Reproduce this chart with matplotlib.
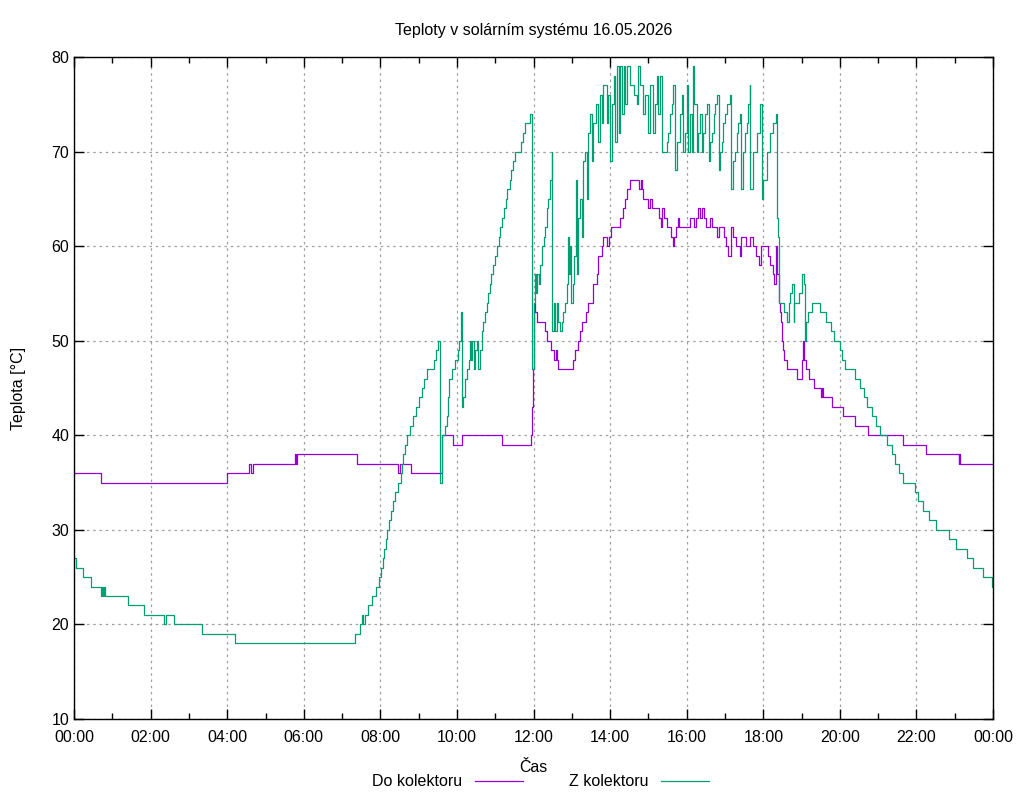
import matplotlib
matplotlib.use('Agg')
import matplotlib.pyplot as plt

plt.rcParams['font.family'] = ['Liberation Sans', 'DejaVu Sans']
plt.rcParams['font.size'] = 11.5

# Do kolektoru (hodiny, teplota)
do_h = [0.0, 0.7, 3.99, 4.57, 4.62, 4.67, 5.78, 5.8, 5.83, 7.4, 8.45, 8.5, 8.8, 9.6, 9.9, 10.13,
        11.17, 11.93, 11.96, 11.98, 12.0, 12.04, 12.08, 12.3, 12.36, 12.45, 12.54, 12.58, 12.62,
        12.65, 13.02, 13.07, 13.15, 13.22, 13.26, 13.37, 13.42, 13.54, 13.65, 13.68, 13.78, 13.82,
        13.91, 13.97, 14.02, 14.26, 14.33, 14.39, 14.45, 14.52, 14.76, 14.8, 14.83, 14.85, 15.0,
        15.05, 15.09, 15.28, 15.32, 15.35, 15.41, 15.48, 15.58, 15.63, 15.67, 15.72, 15.76, 15.81,
        16.09, 16.19, 16.24, 16.29, 16.35, 16.39, 16.45, 16.51, 16.61, 16.65, 16.79, 16.83, 16.98,
        17.03, 17.09, 17.16, 17.22, 17.29, 17.39, 17.42, 17.55, 17.66, 17.74, 17.81, 17.9, 17.94,
        18.13, 18.18, 18.24, 18.28, 18.33, 18.37, 18.4, 18.44, 18.46, 18.48, 18.51, 18.53, 18.61,
        18.89, 19.02, 19.04, 19.07, 19.11, 19.19, 19.32, 19.5, 19.53, 19.56, 19.8, 20.07, 20.39,
        20.74, 21.65, 22.25, 23.1, 23.12, 23.13, 24.0]
do_t = [36, 35, 36, 37, 36, 37, 38, 37, 38, 37, 36, 37, 36, 40, 39, 40,
        39, 40, 43, 47, 54, 53, 52, 51, 50, 49, 48, 49, 48,
        47, 48, 49, 50, 51, 52, 53, 54, 56, 57, 59, 60, 61,
        60, 61, 62, 63, 64, 65, 66, 67, 66, 67, 66, 65, 64,
        65, 64, 63, 62, 64, 63, 62, 61, 60, 61, 62, 63, 62,
        63, 62, 63, 64, 63, 64, 63, 62, 63, 62, 61, 62, 61,
        60, 59, 62, 61, 60, 59, 61, 60, 61, 60, 59, 58, 60,
        59, 58, 57, 56, 60, 57, 54, 53, 52, 50, 49, 48, 47,
        46, 48, 50, 48, 47, 46, 45, 44, 45, 44, 43, 42, 41,
        40, 39, 38, 37, 38, 37, 37]

# Z kolektoru (hodiny, teplota)
z_h = [0.0, 0.05, 0.24, 0.45, 0.7, 0.73, 0.76, 0.78, 0.81, 1.42, 1.84, 2.36, 2.4, 2.62, 3.33,
       4.2, 7.34, 7.47, 7.52, 7.55, 7.6, 7.68, 7.77, 7.88, 7.97, 8.02, 8.07, 8.1, 8.14, 8.18,
       8.22, 8.27, 8.32, 8.38, 8.45, 8.53, 8.56, 8.6, 8.64, 8.69, 8.78, 8.84, 8.93, 9.01, 9.08,
       9.15, 9.21, 9.4, 9.45, 9.51, 9.55, 9.62, 9.69, 9.73, 9.77, 9.8, 9.86, 9.95, 10.02, 10.06,
       10.1, 10.12, 10.17, 10.21, 10.25, 10.32, 10.34, 10.37, 10.4, 10.44, 10.48, 10.52, 10.55,
       10.6, 10.65, 10.69, 10.74, 10.78, 10.82, 10.86, 10.9, 10.95, 11.0, 11.05, 11.09, 11.13,
       11.18, 11.22, 11.27, 11.31, 11.38, 11.42, 11.46, 11.52, 11.67, 11.72, 11.78, 11.9, 11.95,
       11.97, 12.0, 12.02, 12.04, 12.06, 12.1, 12.14, 12.17, 12.21, 12.26, 12.3, 12.34, 12.39,
       12.43, 12.47, 12.49, 12.53, 12.56, 12.6, 12.65, 12.7, 12.74, 12.78, 12.82, 12.87, 12.9,
       12.93, 12.95, 12.98, 13.02, 13.06, 13.1, 13.13, 13.17, 13.21, 13.26, 13.3, 13.35, 13.39,
       13.43, 13.48, 13.52, 13.56, 13.63, 13.69, 13.74, 13.78, 13.82, 13.93, 13.95, 14.0, 14.04,
       14.09, 14.13, 14.17, 14.22, 14.26, 14.3, 14.35, 14.39, 14.43, 14.52, 14.61, 14.69, 14.74,
       14.78, 14.87, 14.91, 15.0, 15.04, 15.13, 15.17, 15.22, 15.26, 15.3, 15.35, 15.48, 15.52,
       15.56, 15.61, 15.65, 15.69, 15.74, 15.83, 15.87, 15.91, 15.96, 16.0, 16.04, 16.09, 16.13,
       16.17, 16.2, 16.26, 16.3, 16.35, 16.39, 16.43, 16.48, 16.52, 16.57, 16.61, 16.65, 16.7,
       16.74, 16.78, 16.83, 16.87, 16.91, 16.96, 17.0, 17.04, 17.13, 17.15, 17.22, 17.26, 17.3,
       17.35, 17.39, 17.42, 17.48, 17.52, 17.57, 17.61, 17.64, 17.66, 17.74, 17.83, 17.91, 17.96,
       18.0, 18.09, 18.17, 18.26, 18.32, 18.35, 18.38, 18.42, 18.53, 18.61, 18.66, 18.7, 18.74,
       18.79, 18.8, 18.92, 19.0, 19.05, 19.09, 19.12, 19.16, 19.26, 19.48, 19.64, 19.76, 19.85,
       20.0, 20.06, 20.14, 20.39, 20.52, 20.64, 20.7, 20.83, 20.93, 21.05, 21.22, 21.35, 21.44,
       21.55, 21.65, 21.96, 22.05, 22.18, 22.33, 22.52, 22.85, 23.03, 23.31, 23.48, 23.73, 23.98,
       24.0]
z_t = [27, 26, 25, 24, 23, 24, 23, 24, 23, 22, 21, 20, 21, 20, 19,
       18, 19, 20, 21, 20, 21, 22, 23, 24, 25, 26, 27, 28, 29, 30,
       31, 32, 33, 34, 35, 36, 37, 38, 39, 40, 41, 42, 43, 44, 45,
       46, 47, 48, 49, 50, 35, 40, 41, 42, 44, 46, 47, 48, 49, 50,
       53, 43, 44, 46, 47, 48, 50, 48, 50, 47, 49, 50, 47,
       49, 51, 52, 53, 54, 55, 56, 57, 58, 59, 60, 61, 62,
       63, 64, 65, 66, 67, 68, 69, 70, 71, 72, 73, 74, 61,
       47, 52, 54, 57, 55, 57, 56, 58, 60, 61, 62, 64, 65,
       67, 70, 51, 54, 51, 54, 52, 51, 52, 53, 54, 56, 61,
       57, 60, 54, 56, 59, 67, 57, 63, 65, 61, 69, 70, 65,
       72, 74, 69, 73, 75, 71, 76, 73, 77, 73, 76, 69, 75,
       78, 71, 79, 72, 79, 74, 79, 75, 79, 77, 76, 75, 79,
       77, 74, 76, 72, 77, 72, 75, 78, 74, 78, 70, 71, 72,
       74, 75, 77, 68, 71, 74, 76, 70, 72, 77, 70, 74, 70,
       79, 75, 70, 72, 74, 70, 72, 74, 75, 69, 71, 72, 74,
       75, 76, 68, 70, 71, 73, 74, 75, 76, 66, 69, 70, 72,
       73, 74, 66, 70, 72, 73, 75, 77, 66, 70, 72, 75, 65,
       67, 70, 72, 73, 74, 63, 61, 54, 53, 52, 54, 55, 56,
       52, 54, 55, 57, 56, 50, 52, 53, 54, 53, 52, 51, 50,
       49, 48, 47, 46, 45, 44, 43, 42, 41, 40, 39, 38, 37,
       36, 35, 34, 33, 32, 31, 30, 29, 28, 27, 26, 25, 24,
       24]

x_ticks = [0, 2, 4, 6, 8, 10, 12, 14, 16, 18, 20, 22, 24]
x_labels = ['00:00', '02:00', '04:00', '06:00', '08:00', '10:00', '12:00',
            '14:00', '16:00', '18:00', '20:00', '22:00', '00:00']
y_ticks = [10, 20, 30, 40, 50, 60, 70, 80]

fig = plt.figure(figsize=(10.24, 8), dpi=100)
ax = fig.add_axes([0.0723, 0.1013, 0.8975, 0.8275])

ax.plot(do_h, do_t, drawstyle='steps-post', color='#9400d3', lw=0.9, label='Do kolektoru')
ax.plot(z_h, z_t, drawstyle='steps-post', color='#009e73', lw=0.9, label='Z kolektoru')

ax.set_xlim(0, 24)
ax.set_ylim(10, 80)
ax.set_xticks(x_ticks)
ax.set_xticklabels(x_labels)
ax.set_xticks(range(1, 24, 2), minor=True)
ax.set_yticks(y_ticks)
ax.tick_params(which='both', direction='in', top=True, right=True, color='black')
ax.tick_params(which='major', length=7, width=1)
ax.tick_params(which='minor', length=4, width=1)
ax.tick_params(axis='x', pad=8)
ax.grid(True, which='major', color='#a0a0a0', linestyle=(0, (2, 3)), lw=0.9)
for s in ax.spines.values():
    s.set_linewidth(1)

ax.set_title('Teploty v solárním systému 16.05.2026', fontsize=11.5, pad=16)
ax.set_ylabel('Teplota [°C]', labelpad=18)
ax.set_xlabel('Čas', labelpad=11)

fig.legend(loc='center', bbox_to_anchor=(0.528, 0.023), ncol=2, frameon=False,
           markerfirst=False, handlelength=3.0, handletextpad=0.8, columnspacing=2.9,
           borderpad=0)

fig.savefig('out.png', dpi=100)
